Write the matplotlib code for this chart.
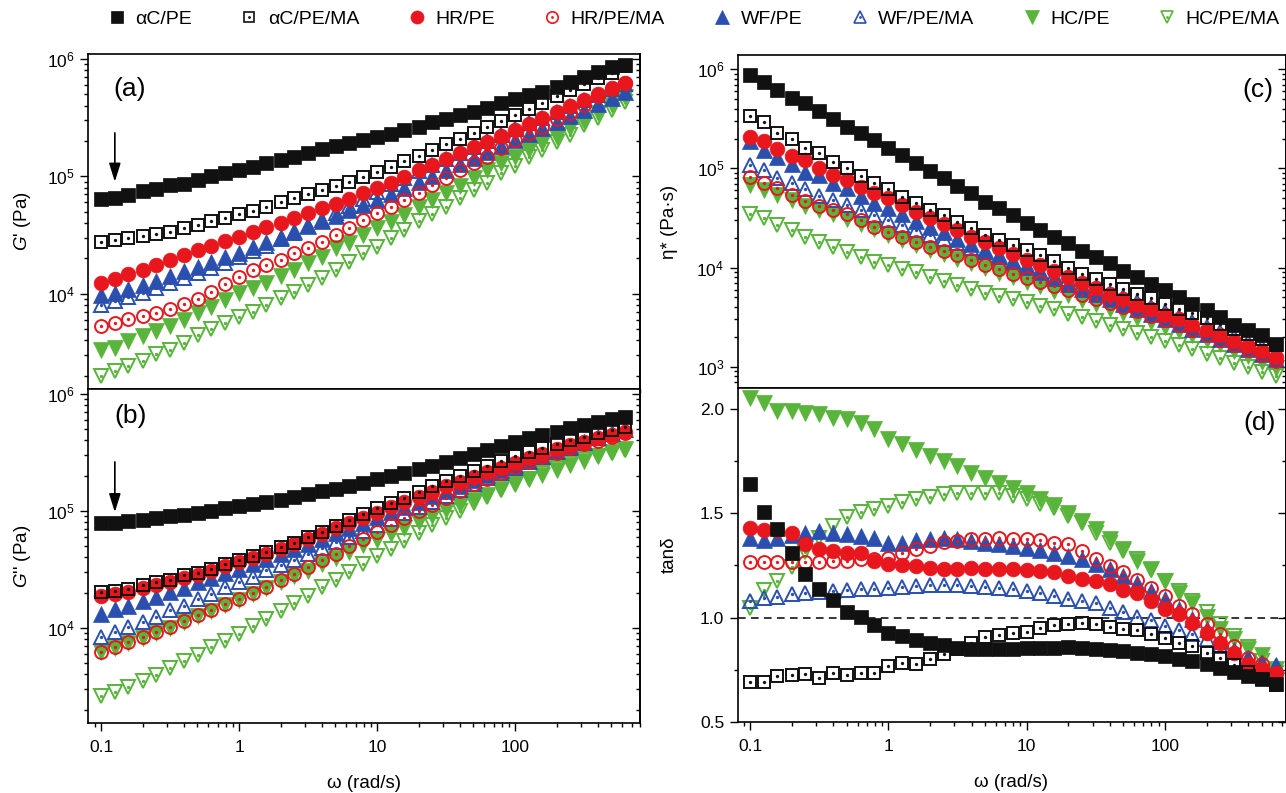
import matplotlib
matplotlib.use('Agg')
import matplotlib.pyplot as plt
from matplotlib.lines import Line2D
from matplotlib.ticker import FuncFormatter, MultipleLocator

plt.rcParams['font.family'] = ['Liberation Sans', 'DejaVu Sans']
plt.rcParams['mathtext.fontset'] = 'custom'
plt.rcParams['mathtext.rm'] = 'Liberation Sans'
plt.rcParams['mathtext.it'] = 'Liberation Sans:italic'

# angular frequency (rad/s), 10 points per decade
omega = [0.1, 0.126, 0.158, 0.2, 0.251, 0.316, 0.398, 0.501, 0.631, 0.794,
         1, 1.26, 1.58, 2, 2.51, 3.16, 3.98, 5.01, 6.31, 7.94,
         10, 12.6, 15.8, 20, 25.1, 31.6, 39.8, 50.1, 63.1, 79.4,
         100, 126, 158, 200, 251, 316, 398, 501, 631]

samples = ['αC/PE', 'αC/PE/MA', 'HR/PE', 'HR/PE/MA', 'WF/PE', 'WF/PE/MA', 'HC/PE', 'HC/PE/MA']

# (a) storage modulus G' (Pa)
g1_ac_pe = [64000, 65200, 69600, 74400, 77900, 83800, 86500, 92400, 100000, 106800,
            113000, 121000, 129000, 138000, 147000, 157000, 170000, 181000, 191000, 204000,
            218000, 230000, 248000, 265000, 287000, 306000, 333000, 356000, 385000, 424000,
            453000, 493000, 527000, 581000, 641000, 707000, 780000, 849000, 885000]
g1_ac_pe_ma = [27700, 28500, 29500, 30700, 32000, 33700, 36000, 38500, 41400, 44500,
               47700, 50900, 55100, 59800, 64800, 70000, 76000, 82200, 89500, 98500,
               109000, 121000, 135000, 150000, 167000, 187000, 208000, 233000, 261000, 295000,
               333000, 373000, 420000, 478000, 540000, 608000, 683000, 765000, 862000]
g1_hr_pe = [12200, 13200, 14600, 15800, 17500, 19300, 21300, 23500, 25600, 28100,
            30600, 33400, 36600, 39800, 43900, 48400, 53400, 58100, 63700, 71600,
            79100, 88300, 99400, 112000, 125000, 140000, 157000, 177000, 197000, 221000,
            248000, 279000, 312000, 356000, 397000, 448000, 504000, 562000, 628000]
g1_hr_pe_ma = [5270, 5640, 6100, 6430, 6870, 7410, 8220, 9020, 10300, 12000,
               13800, 15900, 17600, 19400, 22100, 24300, 27700, 31600, 36000, 42400,
               48400, 55100, 62800, 71600, 84400, 96200, 113000, 129000, 147000, 173000,
               204000, 232000, 265000, 306000, 349000, 406000, 478000, 551000, 628000]
g1_wf_pe = [9680, 10200, 11000, 11900, 12900, 14100, 15500, 17000, 18600, 20400,
            22400, 24800, 27500, 30500, 33900, 37600, 41700, 46200, 51300, 57000,
            63100, 70800, 79400, 89100, 100000, 112000, 126000, 143000, 160000, 180000,
            204000, 229000, 257000, 288000, 327000, 367000, 412000, 462000, 519000]
g1_wf_pe_ma = [7940, 8610, 9330, 10100, 11100, 12200, 13500, 15000, 16600, 18400,
               20400, 22900, 25700, 29200, 33100, 37600, 42700, 49000, 56200, 64600,
               74100, 85100, 96600, 110000, 124000, 141000, 158000, 178000, 200000, 224000,
               251000, 282000, 316000, 355000, 398000, 442000, 490000, 550000, 610000]
g1_hc_pe = [3300, 3450, 3930, 4340, 4780, 5270, 6010, 6850, 7760, 8810,
            10100, 11100, 12400, 14000, 15900, 18200, 20700, 24300, 27200, 31600,
            36100, 41100, 46800, 55100, 62800, 71600, 82800, 96200, 113000, 129000,
            147000, 167000, 191000, 218000, 256000, 298000, 344000, 406000, 471000]
g1_hc_pe_ma = [1980, 2180, 2400, 2650, 3030, 3330, 3800, 4480, 5010, 5620,
               6370, 7030, 8000, 9120, 10400, 11900, 13500, 15900, 18700, 22100,
               25200, 29600, 34900, 41500, 47500, 55100, 65000, 76600, 88300, 106000,
               122000, 147000, 167000, 197000, 225000, 274000, 312000, 367000, 425000]

# (b) loss modulus G'' (Pa)
g2_ac_pe = [78900, 79400, 81500, 84300, 87700, 90000, 93000, 96100, 100000, 105000,
            110000, 114000, 119000, 125000, 132000, 139000, 147000, 155000, 163000, 174000,
            189000, 200000, 212000, 226000, 241000, 263000, 281000, 306000, 331000, 358000,
            388000, 417000, 446000, 476000, 508000, 542000, 579000, 611000, 631000]
g2_ac_pe_ma = [20200, 20500, 21600, 23100, 24600, 25900, 28100, 29600, 32100, 34900,
               37800, 41100, 44500, 49100, 53500, 59800, 66100, 74400, 83200, 93600,
               105000, 117000, 130000, 146000, 163000, 181000, 200000, 220000, 243000, 267000,
               294000, 321000, 347000, 373000, 403000, 431000, 460000, 491000, 518000]
g2_hr_pe = [18600, 19300, 20400, 21900, 23400, 24800, 26900, 28500, 30900, 33500,
            36300, 39400, 43200, 47300, 51900, 57500, 63800, 70800, 78500, 87100,
            96600, 107000, 119000, 132000, 146000, 162000, 178000, 195000, 214000, 234000,
            257000, 282000, 309000, 335000, 363000, 389000, 417000, 447000, 473000]
g2_hr_pe_ma = [6180, 6820, 7530, 8320, 9180, 10100, 11400, 12800, 14300, 16100,
               17700, 19800, 22300, 25500, 29000, 33100, 37800, 43100, 49800, 57900,
               66100, 75300, 87700, 99300, 112000, 128000, 148000, 169000, 189000, 212000,
               235000, 261000, 286000, 314000, 342000, 371000, 398000, 431000, 460000]
g2_wf_pe = [13200, 14500, 15500, 17000, 18200, 20400, 22100, 24500, 26900, 29500,
            31600, 35500, 38500, 42700, 46800, 51800, 57500, 64600, 71600, 79400,
            88100, 97700, 108000, 120000, 133000, 148000, 164000, 182000, 202000, 224000,
            245000, 269000, 295000, 324000, 355000, 389000, 427000, 462000, 501000]
g2_wf_pe_ma = [8320, 9180, 10100, 11200, 12300, 14100, 15500, 17700, 19500, 22300,
               24600, 27200, 31000, 34200, 38000, 42700, 47900, 53700, 60300, 67600,
               75900, 85100, 95500, 107000, 120000, 135000, 151000, 170000, 191000, 211000,
               234000, 260000, 288000, 316000, 347000, 380000, 417000, 452000, 490000]
g2_hc_pe = [6170, 6760, 7500, 8220, 9120, 10000, 11200, 12600, 14000, 15700,
            17400, 19500, 21900, 24500, 27500, 30900, 35100, 39800, 44700, 50700,
            56900, 63800, 71600, 80400, 90200, 101000, 112000, 124000, 138000, 153000,
            170000, 186000, 204000, 224000, 245000, 269000, 292000, 316000, 339000]
g2_hc_pe_ma = [2630, 2860, 3140, 3490, 3980, 4540, 5180, 5900, 6820, 7780,
               8890, 10300, 11900, 13900, 16300, 18900, 22300, 25800, 30000, 35400,
               41100, 47500, 55300, 64700, 75300, 87100, 100000, 116000, 132000, 150000,
               169000, 189000, 212000, 234000, 255000, 275000, 294000, 314000, 331000]

# (c) complex viscosity eta* (Pa s)
eta_ac_pe = [877000, 740000, 618000, 518000, 454000, 379000, 315000, 264000, 226000, 193000,
             162000, 136000, 112000, 94000, 79300, 66800, 55800, 46000, 39400, 33800,
             27800, 23800, 20400, 17500, 14600, 12800, 11000, 9180, 8050, 6890,
             5900, 5060, 4330, 3710, 3180, 2650, 2330, 2070, 1710]
eta_ac_pe_ma = [340000, 296000, 226000, 198000, 162000, 142000, 117000, 102000, 84300, 70500,
                61800, 51800, 44300, 37900, 33800, 28900, 24800, 21500, 18900, 16800,
                15000, 13300, 11600, 9930, 8690, 7620, 6890, 6040, 5460, 4940,
                4330, 3850, 3510, 3100, 2720, 2380, 2150, 1890, 1670]
eta_hr_pe = [209000, 189000, 157000, 134000, 121000, 102000, 85700, 76200, 65300, 55800,
             49800, 42700, 36500, 31300, 27200, 23800, 20400, 18200, 15800, 13800,
             11900, 10600, 9180, 8050, 7050, 6240, 5460, 4860, 4230, 3790,
             3350, 3010, 2650, 2330, 2070, 1820, 1620, 1430, 1250]
eta_hr_pe_ma = [82400, 70500, 62800, 53800, 46800, 42000, 37900, 34300, 30100, 25800,
                22900, 20400, 18200, 16200, 14600, 13300, 11900, 10700, 9610, 8690,
                7870, 7160, 6530, 5900, 5330, 4860, 4430, 4010, 3620, 3250,
                2940, 2620, 2330, 2070, 1870, 1640, 1460, 1300, 1130]
eta_wf_pe = [189000, 153000, 131000, 110000, 92500, 85700, 70500, 62800, 53000, 44300,
             39400, 34300, 29400, 25800, 22600, 19600, 17100, 15000, 13300, 11600,
             10200, 9040, 7870, 6890, 6140, 5460, 4860, 4330, 3850, 3430,
             3050, 2720, 2420, 2150, 1920, 1710, 1520, 1350, 1200]
eta_wf_pe_ma = [108000, 96200, 79300, 70500, 61400, 53000, 47900, 42700, 37900, 33800,
                30100, 26800, 23800, 21500, 19300, 17500, 15600, 14200, 12800, 11400,
                10400, 9180, 8490, 7620, 6730, 6140, 5580, 5060, 4500, 4010,
                3560, 3180, 2820, 2520, 2240, 2000, 1770, 1580, 1380]
eta_hc_pe = [67900, 60300, 53700, 47900, 42200, 37600, 34300, 30900, 27500, 24300,
             21400, 19100, 17000, 15100, 13600, 12300, 11000, 9890, 8910, 7940,
             7160, 6460, 5820, 5250, 4730, 4270, 3850, 3470, 3130, 2820,
             2540, 2290, 2070, 1860, 1680, 1450, 1290, 1120, 977]
eta_hc_pe_ma = [34300, 31300, 27000, 23800, 20400, 18200, 16200, 14400, 12800, 11400,
                10700, 9610, 9040, 8050, 7280, 6730, 6140, 5580, 5180, 4790,
                4500, 4100, 3790, 3430, 3180, 2870, 2650, 2420, 2200, 2000,
                1800, 1640, 1500, 1350, 1210, 1100, 993, 883, 798]

# (d) loss tangent tan(delta)
tan_ac_pe = [1.639, 1.508, 1.423, 1.308, 1.208, 1.139, 1.083, 1.029, 1.005, 0.963,
             0.928, 0.912, 0.893, 0.880, 0.867, 0.856, 0.851, 0.851, 0.851, 0.851,
             0.856, 0.856, 0.856, 0.861, 0.856, 0.851, 0.845, 0.840, 0.832, 0.824,
             0.816, 0.804, 0.792, 0.776, 0.760, 0.740, 0.720, 0.704, 0.680]
tan_ac_pe_ma = [0.692, 0.692, 0.720, 0.724, 0.728, 0.712, 0.736, 0.724, 0.736, 0.736,
                0.768, 0.784, 0.776, 0.804, 0.824, 0.851, 0.880, 0.909, 0.915, 0.928,
                0.931, 0.952, 0.963, 0.968, 0.973, 0.968, 0.957, 0.947, 0.941, 0.920,
                0.904, 0.880, 0.864, 0.832, 0.808, 0.772, 0.740, 0.704, 0.676]
tan_hr_pe = [1.427, 1.420, 1.420, 1.404, 1.351, 1.327, 1.319, 1.308, 1.308, 1.272,
             1.256, 1.251, 1.248, 1.240, 1.232, 1.235, 1.240, 1.235, 1.235, 1.235,
             1.228, 1.224, 1.219, 1.200, 1.184, 1.176, 1.160, 1.133, 1.117, 1.080,
             1.043, 1.016, 0.976, 0.928, 0.880, 0.832, 0.776, 0.752, 0.736]
tan_hr_pe_ma = [1.267, 1.267, 1.267, 1.267, 1.267, 1.267, 1.272, 1.272, 1.280, 1.280,
                1.288, 1.308, 1.327, 1.343, 1.363, 1.367, 1.375, 1.379, 1.383, 1.379,
                1.375, 1.371, 1.356, 1.351, 1.319, 1.283, 1.248, 1.219, 1.181, 1.144,
                1.104, 1.056, 1.016, 0.968, 0.920, 0.864, 0.808, 0.776, 0.736]
tan_wf_pe = [1.383, 1.372, 1.383, 1.395, 1.407, 1.415, 1.404, 1.399, 1.391, 1.383,
             1.359, 1.356, 1.372, 1.379, 1.383, 1.379, 1.367, 1.359, 1.351, 1.343,
             1.335, 1.324, 1.311, 1.296, 1.280, 1.256, 1.232, 1.200, 1.168, 1.128,
             1.088, 1.040, 0.992, 0.944, 0.888, 0.845, 0.808, 0.784, 0.772]
tan_wf_pe_ma = [1.080, 1.096, 1.101, 1.112, 1.120, 1.123, 1.128, 1.133, 1.136, 1.139,
                1.144, 1.149, 1.152, 1.155, 1.155, 1.155, 1.152, 1.149, 1.144, 1.136,
                1.128, 1.117, 1.104, 1.088, 1.080, 1.069, 1.048, 1.027, 1.005, 0.989,
                0.960, 0.941, 0.920, 0.899, 0.864, 0.835, 0.808, 0.784, 0.768]
tan_hc_pe = [2.054, 2.027, 1.990, 1.990, 1.982, 1.974, 1.958, 1.950, 1.934, 1.903,
             1.855, 1.831, 1.804, 1.772, 1.751, 1.724, 1.692, 1.671, 1.647, 1.623,
             1.599, 1.570, 1.538, 1.503, 1.463, 1.423, 1.375, 1.327, 1.272, 1.232,
             1.176, 1.120, 1.072, 1.005, 0.944, 0.896, 0.848, 0.819, 0.752]
tan_hc_pe_ma = [1.048, 1.133, 1.176, 1.244, 1.312, 1.383, 1.439, 1.484, 1.506, 1.522,
                1.535, 1.554, 1.570, 1.580, 1.591, 1.596, 1.599, 1.599, 1.596, 1.583,
                1.567, 1.543, 1.527, 1.487, 1.452, 1.407, 1.359, 1.319, 1.280, 1.228,
                1.176, 1.128, 1.080, 1.027, 0.968, 0.912, 0.861, 0.792, 0.736]

colors = ['#111111', '#111111', '#e8161d', '#e8161d', '#2a4fae', '#2a4fae', '#58b43a', '#58b43a']
markers = ['s', 's', 'o', 'o', '^', '^', 'v', 'v']
hollow = [False, True, False, True, False, True, False, True]
msize = {'s': 9.7, 'o': 10.6, '^': 11.2, 'v': 11.2}


def draw_series(ax, series):
    # first sample ends up on top, like the original figure
    for i, y in enumerate(series):
        c, m = colors[i], markers[i]
        z = 30 - 2 * i
        if hollow[i]:
            ax.plot(omega, y, ls='none', marker=m, ms=msize[m] - 1.3, mfc='none',
                    mec=c, mew=1.4, zorder=z)
            ax.plot(omega, y, ls='none', marker='o', ms=2.4, mfc=c, mec=c, mew=0,
                    zorder=z)
        else:
            ax.plot(omega, y, ls='none', marker=m, ms=msize[m], mfc=c, mec=c,
                    mew=0.5, zorder=z)


def style_axes(ax, log_y=True):
    ax.set_xscale('log')
    if log_y:
        ax.set_yscale('log')
    for sp in ax.spines.values():
        sp.set_linewidth(1.2)
    ax.tick_params(which='both', direction='out', top=False, right=False, width=1.0)
    ax.tick_params(which='major', length=5.5, labelsize=12.5, pad=4)
    ax.tick_params(which='minor', length=3)
    ax.tick_params(axis='x', pad=7)
    ax.xaxis.set_major_formatter(FuncFormatter(lambda v, p: '%g' % v))
    sec = ax.secondary_yaxis('right')
    sec.tick_params(which='both', direction='in', labelright=False, width=1.0)
    sec.tick_params(which='major', length=5.5)
    sec.tick_params(which='minor', length=3)
    sec.spines['right'].set_linewidth(1.2)
    return sec


W, H = 1286, 793
fig = plt.figure(figsize=(W / 100, H / 100), dpi=100)
ax_a = fig.add_axes([88 / W, 1 - 389 / H, 552 / W, 335 / H])
ax_b = fig.add_axes([88 / W, 1 - 723 / H, 552 / W, 334 / H])
ax_c = fig.add_axes([737.5 / W, 1 - 388 / H, 548 / W, 333 / H])
ax_d = fig.add_axes([737.5 / W, 1 - 722 / H, 548 / W, 334 / H])

draw_series(ax_a, [g1_ac_pe, g1_ac_pe_ma, g1_hr_pe, g1_hr_pe_ma,
                   g1_wf_pe, g1_wf_pe_ma, g1_hc_pe, g1_hc_pe_ma])
draw_series(ax_b, [g2_ac_pe, g2_ac_pe_ma, g2_hr_pe, g2_hr_pe_ma,
                   g2_wf_pe, g2_wf_pe_ma, g2_hc_pe, g2_hc_pe_ma])
draw_series(ax_c, [eta_ac_pe, eta_ac_pe_ma, eta_hr_pe, eta_hr_pe_ma,
                   eta_wf_pe, eta_wf_pe_ma, eta_hc_pe, eta_hc_pe_ma])
draw_series(ax_d, [tan_ac_pe, tan_ac_pe_ma, tan_hr_pe, tan_hr_pe_ma,
                   tan_wf_pe, tan_wf_pe_ma, tan_hc_pe, tan_hc_pe_ma])

for ax in (ax_a, ax_b):
    style_axes(ax)
    ax.set_xlim(0.0805, 805)
    ax.set_ylim(1540, 1.1e6)
for ax in (ax_c,):
    style_axes(ax)
    ax.set_xlim(0.0812, 745)
    ax.set_ylim(610, 1.39e6)
sec_d = style_axes(ax_d, log_y=False)
ax_d.set_xlim(0.0812, 745)
ax_d.set_ylim(0.5, 2.1)
ax_d.yaxis.set_major_locator(MultipleLocator(0.5))
ax_d.yaxis.set_minor_locator(MultipleLocator(0.25))
ax_d.yaxis.set_major_formatter(FuncFormatter(lambda v, p: '%.1f' % v))
sec_d.yaxis.set_major_locator(MultipleLocator(0.5))
sec_d.yaxis.set_minor_locator(MultipleLocator(0.25))
ax_d.axhline(1.0, color='black', lw=1.1, ls=(0, (5, 3.5)), zorder=2)

ax_a.tick_params(labelbottom=False)
ax_c.tick_params(labelbottom=False)

ax_a.set_ylabel(r'$\mathit{G}$' + "' (Pa)", fontsize=13.5, va='center')
ax_b.set_ylabel(r'$\mathit{G}$' + "'' (Pa)", fontsize=13.5, va='center')
ax_c.set_ylabel('η* (Pa·s)', fontsize=13.5, va='center')
ax_d.set_ylabel('tanδ', fontsize=13.5, va='center')
for ax in (ax_a, ax_b):
    ax.yaxis.set_label_coords(-0.118, 0.5)
for ax in (ax_c, ax_d):
    ax.yaxis.set_label_coords(-0.125, 0.5)
for ax in (ax_b, ax_d):
    ax.set_xlabel('ω (rad/s)', fontsize=13.5, va='center')
    ax.xaxis.set_label_coords(0.5, -0.18)

ax_a.text(0.076, 0.896, '(a)', transform=ax_a.transAxes, fontsize=19, ha='center', va='center')
ax_b.text(0.078, 0.919, '(b)', transform=ax_b.transAxes, fontsize=19, ha='center', va='center')
ax_c.text(0.950, 0.896, '(c)', transform=ax_c.transAxes, fontsize=19, ha='center', va='center')
ax_d.text(0.952, 0.894, '(d)', transform=ax_d.transAxes, fontsize=19, ha='center', va='center')

arrow = dict(arrowstyle='-|>,head_length=0.7,head_width=0.22', color='black', lw=1.2,
             mutation_scale=16, shrinkA=0, shrinkB=0)
ax_a.annotate('', xy=(0.126, 89800), xytext=(0.126, 234000), arrowprops=arrow)
ax_b.annotate('', xy=(0.126, 97500), xytext=(0.126, 262000), arrowprops=arrow)

handles = []
for i in range(8):
    c, m = colors[i], markers[i]
    if hollow[i]:
        h = (Line2D([], [], ls='none', marker=m, ms=msize[m] - 2.4, mfc='none', mec=c, mew=1.2),
             Line2D([], [], ls='none', marker='o', ms=2.0, mfc=c, mec=c, mew=0))
    else:
        h = Line2D([], [], ls='none', marker=m, ms=msize[m] - 1.2, mfc=c, mec=c, mew=0.5)
    handles.append(h)
fig.legend(handles, samples, loc='center left', bbox_to_anchor=(107 / W, 1 - 19 / H),
           ncol=8, frameon=False, fontsize=14, handlelength=1.0, handletextpad=0.45,
           columnspacing=2.45, borderaxespad=0, borderpad=0)

fig.savefig('out.png', dpi=100)
